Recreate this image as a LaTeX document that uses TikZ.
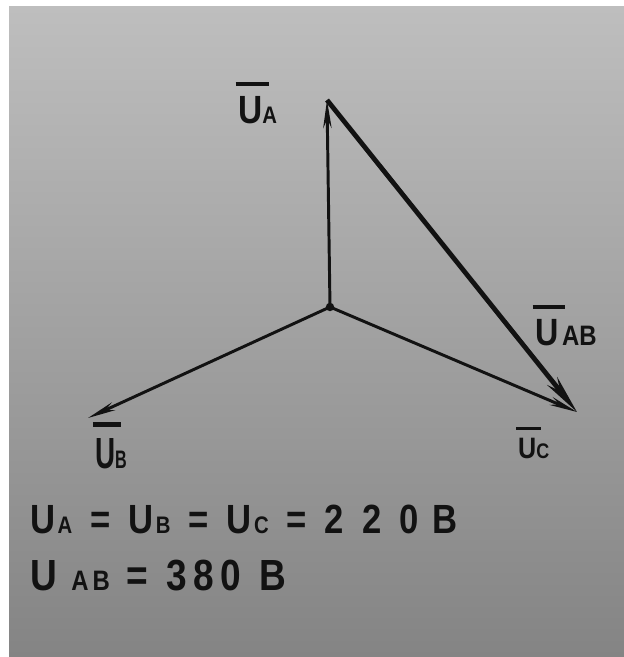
\documentclass[tikz,border=0pt]{standalone}
\usepackage{fontspec}
\setmainfont{Liberation Sans}
\usetikzlibrary{arrows.meta}
\definecolor{ink}{RGB}{18,18,18}
\definecolor{paperTop}{RGB}{190,190,190}
\definecolor{paperMid}{RGB}{176,176,176}
\definecolor{paperBot}{RGB}{132,132,132}
\newcommand{\Ubar}{\rlap{\hspace{-0.08em}\raisebox{0.95em}{\rule{1.0em}{0.1em}}}U}
\newcommand{\idx}[2][17]{{\fontsize{#1}{#1}\selectfont #2}}
\newcommand{\gp}[1][15pt]{\hspace{#1}}

\begin{document}
\begin{tikzpicture}[x=0.025cm, y=-0.025cm,
    vec/.style={draw=ink, line width=2.1pt, -{Stealth[length=20pt, width=6pt]}},
    linevec/.style={draw=ink, line width=3.4pt, -{Stealth[length=28pt, width=9pt]}},
    lbl/.style={text=ink, font=\fontsize{28}{30}\selectfont\bfseries, xscale=0.85, inner sep=0pt, anchor=base west},
    eqn/.style={text=ink, font=\fontsize{29}{31}\selectfont\bfseries, xscale=0.85, inner sep=0pt, anchor=base west}]
    % Paper
    \useasboundingbox (0,0) rectangle (624,657);
    \fill[white] (0,0) rectangle (624,657);
    \shade[top color=paperTop, middle color=paperMid, bottom color=paperBot] (9,7) rectangle (624,657);

    % Phase voltages
    \coordinate (O) at (330,307);
    \coordinate (A) at (327,100);
    \coordinate (B) at (88,418);
    \coordinate (C) at (577,412);
    \draw[vec] (O) -- (A);
    \draw[vec] (O) -- (B);
    \draw[vec] (O) -- (C);

    % Line voltage
    \draw[linevec] (A) -- (C);
    \fill[ink] (O) circle[radius=3pt];

    % Labels
    \node[lbl] (lA) at (238,123) {\Ubar\idx{A}};
    \node[lbl, font=\fontsize{31}{33}\selectfont\bfseries, xscale=0.75] (lB) at (95,468) {\Ubar\idx[18]{B}};
    \node[lbl, font=\fontsize{21}{23}\selectfont\bfseries] (lC) at (518,458) {\Ubar\idx[15]{C}};
    \node[lbl, font=\fontsize{27}{29}\selectfont\bfseries] (lAB) at (535,345) {\Ubar\gp[3pt]\idx[20]{AB}};

    % Values
    \node[eqn] (eq1) at (30,533)
      {U\gp[2pt]\idx{A}\gp=\gp U\gp[2pt]\idx{B}\gp=\gp U\gp[2pt]\idx{C}\gp=\gp 2\gp 2\gp 0\gp[12pt]B};
    \node[eqn, font=\fontsize{31}{33}\selectfont\bfseries] (eq2) at (30,590)
      {U\gp[12pt]\idx[20]{A\,B}\gp[14pt]=\gp[15pt]3\gp[6pt]8\gp[5pt]0\gp[15pt]B};
\end{tikzpicture}
\end{document}
